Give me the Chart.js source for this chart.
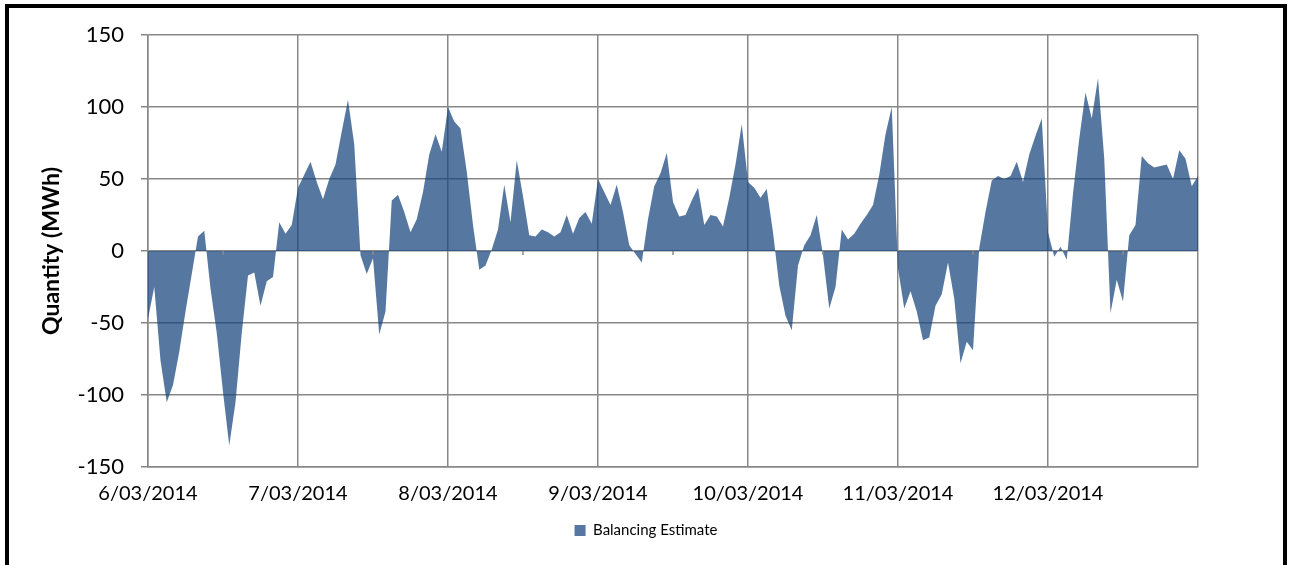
<!DOCTYPE html>
<html><head><meta charset="utf-8">
<script src="https://cdn.jsdelivr.net/npm/chart.js@4.4.1/dist/chart.umd.min.js"></script>
<style>
html,body{margin:0;padding:0;background:#fff;width:1289px;height:565px;overflow:hidden;}
#frame{position:absolute;left:5px;top:4px;width:1274px;height:561px;border:4px solid #000;border-bottom:none;background:#fff;}
#wrap{position:absolute;left:0;top:0;width:1274px;height:557px;}
</style></head>
<body>
<div id="frame"><div id="wrap"><canvas id="c"></canvas></div></div>
<script>
// Tick labels (one per day, hourly data)
const dateLabels = ['6/03/2014','7/03/2014','8/03/2014','9/03/2014','10/03/2014','11/03/2014','12/03/2014'];
const seriesName = 'Balancing Estimate';
const axisTitle = 'Quantity (MWh)';
const yMin = -150, yMax = 150, yStep = 50;
const hoursPerDay = 24;

// Hourly balancing estimate (MWh)
const day0603 = [-47, -25, -76, -105, -93, -70, -42, -16, 10, 14, -26, -57, -98, -135, -105, -57, -17, -15, -38, -21, -18, 20, 12, 18];
const day0703 = [44, 53, 62, 48, 36, 50, 60, 83, 105, 74, -3, -16, -5, -58, -42, 35, 39, 27, 13, 22, 41, 67, 81, 69];
const day0803 = [100, 90, 85, 55, 18, -13, -10, 1, 15, 46, 20, 63, 38, 11, 10, 15, 13, 10, 13, 25, 12, 23, 27, 19];
const day0903 = [50, 41, 32, 46, 27, 4, -2, -8, 22, 45, 54, 68, 34, 24, 25, 35, 44, 18, 25, 24, 17, 37, 60, 88];
const day1003 = [48, 44, 37, 43, 13, -24, -45, -55, -10, 4, 11, 25, -3, -40, -25, 15, 8, 12, 19, 25, 32, 53, 81, 100];
const day1103 = [-12, -40, -28, -42, -62, -60, -38, -30, -8, -33, -78, -63, -69, 2, 27, 49, 52, 50, 52, 62, 48, 67, 80, 92];
const day1203 = [13, -4, 3, -6, 40, 78, 110, 92, 120, 64, -43, -20, -35, 11, 18, 66, 61, 58, 59, 60, 50, 70, 64, 45, 52];

const values = [].concat(day0603, day0703, day0803, day0903, day1003, day1103, day1203);
const points = values.map((v, i) => ({x: i, y: v}));
const totalHours = dateLabels.length * hoursPerDay;

const midDayTicks = {
  id: 'midDayTicks',
  afterDraw(chart) {
    const {ctx, scales: {x, y}} = chart;
    const y0 = y.getPixelForValue(0);
    ctx.save();
    ctx.strokeStyle = '#8a8a8a';
    ctx.lineWidth = 1.5;
    for (let d = 0; d < dateLabels.length; d++) {
      const px = x.getPixelForValue(d * hoursPerDay + hoursPerDay / 2);
      ctx.beginPath();
      ctx.moveTo(px, y0);
      ctx.lineTo(px, y0 + 4);
      ctx.stroke();
    }
    ctx.restore();
  }
};

new Chart(document.getElementById('c'), {
  type: 'line',
  data: {
    datasets: [{
      label: seriesName,
      data: points,
      fill: 'origin',
      backgroundColor: 'rgba(20,66,123,0.72)',
      borderColor: 'rgba(0,0,0,0)',
      borderWidth: 0,
      pointRadius: 0,
      tension: 0
    }]
  },
  options: {
    responsive: true,
    maintainAspectRatio: false,
    animation: false,
    devicePixelRatio: 1,
    layout: {padding: {top: 27, left: 0, right: 0, bottom: 17}},
    plugins: {
      tooltip: {enabled: false},
      legend: {
        position: 'bottom',
        labels: {
          boxWidth: 11, boxHeight: 11, padding: 10,
          color: '#000',
          font: {family: 'Lato', size: 15}
        }
      }
    },
    scales: {
      x: {
        type: 'linear',
        min: 0, max: totalHours,
        ticks: {
          stepSize: hoursPerDay,
          autoSkip: false, maxRotation: 0,
          color: '#000',
          font: {family: 'Lato', size: 20},
          padding: 15,
          callback: (v) => dateLabels[v / hoursPerDay] || ''
        },
        grid: {color: '#888', lineWidth: 1.5, drawTicks: false},
        border: {color: '#888', width: 1.5},
        afterFit: (s) => { s.height = 46; }
      },
      y: {
        position: 'left',
        min: yMin, max: yMax,
        ticks: {
          stepSize: yStep,
          color: '#000',
          font: {family: 'Lato', size: 22},
          padding: 17
        },
        grid: {color: '#888', lineWidth: 1.5, tickLength: 7},
        border: {color: '#888', width: 1.5},
        title: {
          display: true, text: axisTitle, color: '#000',
          font: {family: 'Lato', size: 23, weight: 'bold'},
          padding: {top: 29, bottom: 4}
        },
        afterFit: (s) => { s.width = 139; s.paddingTop = 0; s.paddingBottom = 0; }
      },
      yRight: {
        position: 'right',
        display: true,
        ticks: {display: false},
        grid: {display: false, drawOnChartArea: false},
        border: {display: false},
        afterFit: (s) => { s.width = 85; s.paddingTop = 0; s.paddingBottom = 0; }
      }
    }
  },
  plugins: [midDayTicks]
});
</script>
</body></html>
